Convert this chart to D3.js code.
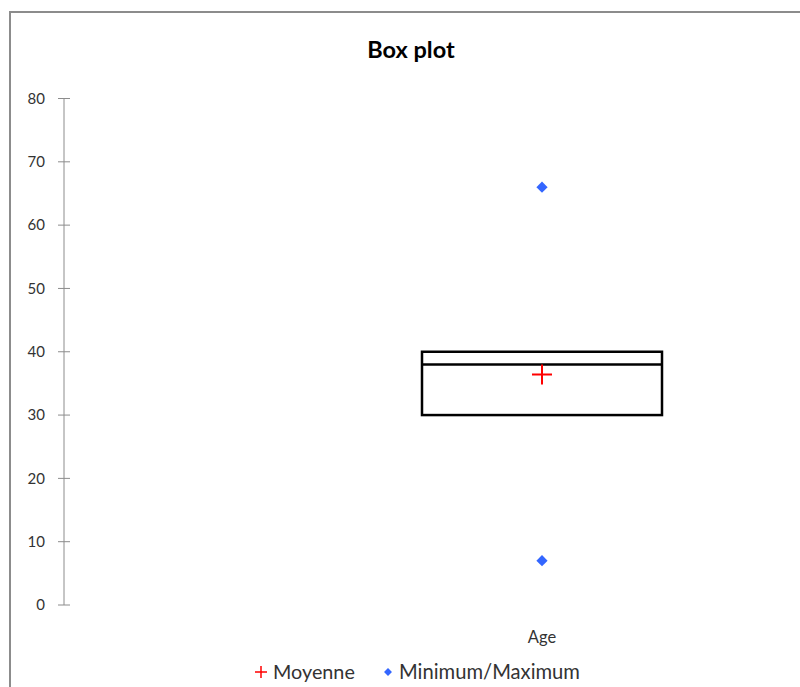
<!DOCTYPE html>
<html>
<head>
<meta charset="utf-8">
<script src="https://cdn.jsdelivr.net/npm/d3@7"></script>
<style>
  html, body { margin: 0; padding: 0; background: #fff; }
  svg { display: block; font-family: Lato, "Open Sans", "Liberation Sans", sans-serif; }
</style>
</head>
<body>
<svg id="chart" width="800" height="687"></svg>
<script>
// Summary statistics of the "Age" variable
const categories = ["Age"];
const q1Values = [30];
const medianValues = [38];
const q3Values = [40];
const meanValues = [36.4];
const minValues = [7];
const maxValues = [66];
const yTicks = [0, 10, 20, 30, 40, 50, 60, 70, 80];
const legendLabels = ["Moyenne", "Minimum/Maximum"];

const svg = d3.select("#chart");

// Chart frame (runs past the right and bottom edges of the view)
svg.append("rect")
  .attr("x", 10).attr("y", 12)
  .attr("width", 830).attr("height", 700)
  .attr("fill", "#fff")
  .attr("stroke", "#8c8c8c")
  .attr("stroke-width", 2);

svg.append("text")
  .attr("x", 411).attr("y", 58)
  .attr("text-anchor", "middle")
  .attr("font-size", 23.5)
  .attr("font-weight", "bold")
  .attr("fill", "#000")
  .text("Box plot");

const y = d3.scaleLinear().domain([0, 80]).range([605, 98.5]);
const x = d3.scaleBand().domain(categories).range([64, 1020]);

// Y axis with crossing tick marks
const axisG = svg.append("g");
axisG.append("line")
  .attr("x1", 64).attr("x2", 64)
  .attr("y1", y(80)).attr("y2", y(0))
  .attr("stroke", "#8c8c8c").attr("stroke-width", 1);
axisG.selectAll("line.tick").data(yTicks).join("line")
  .attr("class", "tick")
  .attr("x1", 58).attr("x2", 70)
  .attr("y1", d => y(d)).attr("y2", d => y(d))
  .attr("stroke", "#8c8c8c").attr("stroke-width", 1);
axisG.selectAll("text").data(yTicks).join("text")
  .attr("x", 45).attr("y", d => y(d))
  .attr("dy", "0.35em")
  .attr("text-anchor", "end")
  .attr("font-size", 15)
  .attr("fill", "#333")
  .text(d => d);

// Category label
svg.selectAll("text.cat").data(categories).join("text")
  .attr("class", "cat")
  .attr("x", d => x(d) + x.bandwidth() / 2)
  .attr("y", 637)
  .attr("dy", "0.35em")
  .attr("text-anchor", "middle")
  .attr("font-size", 16.5)
  .attr("fill", "#333")
  .text(d => d);

const boxHalf = 120;
const boxes = categories.map((c, i) => ({
  c, q1: q1Values[i], med: medianValues[i], q3: q3Values[i],
  mean: meanValues[i], min: minValues[i], max: maxValues[i]
}));

const g = svg.append("g");
boxes.forEach(b => {
  const cx = x(b.c) + x.bandwidth() / 2;
  g.append("rect")
    .attr("x", cx - boxHalf).attr("y", y(b.q3))
    .attr("width", boxHalf * 2).attr("height", y(b.q1) - y(b.q3))
    .attr("fill", "none").attr("stroke", "#000").attr("stroke-width", 2.5);
  g.append("line")
    .attr("x1", cx - boxHalf).attr("x2", cx + boxHalf)
    .attr("y1", y(b.med)).attr("y2", y(b.med))
    .attr("stroke", "#000").attr("stroke-width", 2.5);
  // mean marker
  g.append("path")
    .attr("d", `M${cx - 10},${y(b.mean)}H${cx + 10}M${cx},${y(b.mean) - 10}V${y(b.mean) + 10}`)
    .attr("stroke", "#ff0000").attr("stroke-width", 2).attr("fill", "none");
  // min / max markers
  [b.min, b.max].forEach(v => {
    g.append("path")
      .attr("d", d3.symbol(d3.symbolDiamond2, 80)())
      .attr("transform", `translate(${cx},${y(v)})`)
      .attr("fill", "#3366ff");
  });
});

// Legend
const lg = svg.append("g");
lg.append("path")
  .attr("d", "M255,672H267M261,666V678")
  .attr("stroke", "#ff0000").attr("stroke-width", 1.5);
lg.append("text")
  .attr("x", 273).attr("y", 672).attr("dy", "0.35em")
  .attr("font-size", 19.8).attr("fill", "#333")
  .text(legendLabels[0]);
lg.append("path")
  .attr("d", d3.symbol(d3.symbolDiamond2, 40)())
  .attr("transform", "translate(388,672)")
  .attr("fill", "#3366ff");
lg.append("text")
  .attr("x", 399).attr("y", 672).attr("dy", "0.35em")
  .attr("font-size", 20.2).attr("fill", "#333")
  .text(legendLabels[1]);
</script>
</body>
</html>
